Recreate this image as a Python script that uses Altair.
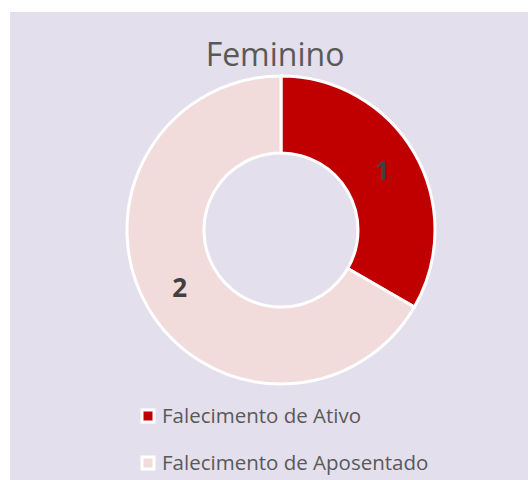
import altair as alt
import pandas as pd

title_text = "Feminino"
categories = ["Falecimento de Ativo", "Falecimento de Aposentado"]
values = [1, 2]
colors = ["#C00000", "#F2DCDB"]

df = pd.DataFrame({"categoria": categories, "valor": values, "ordem": [0, 1]})

W, H = 528, 480
CX, CY = 281, 230
FONT = "Open Sans"

bg = alt.Chart(pd.DataFrame({"a": [0]})).mark_rect(color="#E4DFEC").encode(
    x=alt.value(10), x2=alt.value(W), y=alt.value(12), y2=alt.value(H)
)

color_scale = alt.Scale(domain=categories, range=colors)

base = alt.Chart(df).encode(
    theta=alt.Theta("valor:Q", stack=True),
    order=alt.Order("ordem:Q"),
)

arcs = base.mark_arc(
    outerRadius=154, innerRadius=77, stroke="white", strokeWidth=3
).encode(
    x=alt.value(CX),
    y=alt.value(CY),
    color=alt.Color("categoria:N", scale=color_scale, legend=None),
)

labels = base.mark_text(
    radius=117, font=FONT, fontSize=26, fontWeight="bold", color="#404040"
).encode(
    x=alt.value(CX),
    y=alt.value(CY),
    text=alt.Text("valor:Q"),
)

title = alt.Chart(pd.DataFrame({"t": [title_text]})).mark_text(
    font=FONT, fontSize=32, color="#595959", baseline="alphabetic",
    align="center",
).encode(
    x=alt.value(275),
    y=alt.value(66),
    text="t:N",
)

legend_y = alt.Y(
    "categoria:N",
    scale=alt.Scale(type="point", domain=categories, range=[416, 463], padding=0),
    axis=None,
)

leg_sym = alt.Chart(df).mark_square(
    size=144, stroke="white", strokeWidth=3, opacity=1
).encode(
    x=alt.value(148),
    y=legend_y,
    color=alt.Color("categoria:N", scale=color_scale, legend=None),
)

leg_txt = alt.Chart(df).mark_text(
    font=FONT, fontSize=20.5, color="#595959", align="left",
    baseline="alphabetic", dy=7,
).encode(
    x=alt.value(162),
    y=legend_y,
    text="categoria:N",
)

chart = alt.layer(bg, arcs, labels, title, leg_sym, leg_txt).properties(
    width=W, height=H, autosize=alt.AutoSizeParams(type="none"), padding=0,
    background="white",
).configure_view(stroke=None)

chart.save("out.html", embed_options={"renderer": "svg", "actions": False})
